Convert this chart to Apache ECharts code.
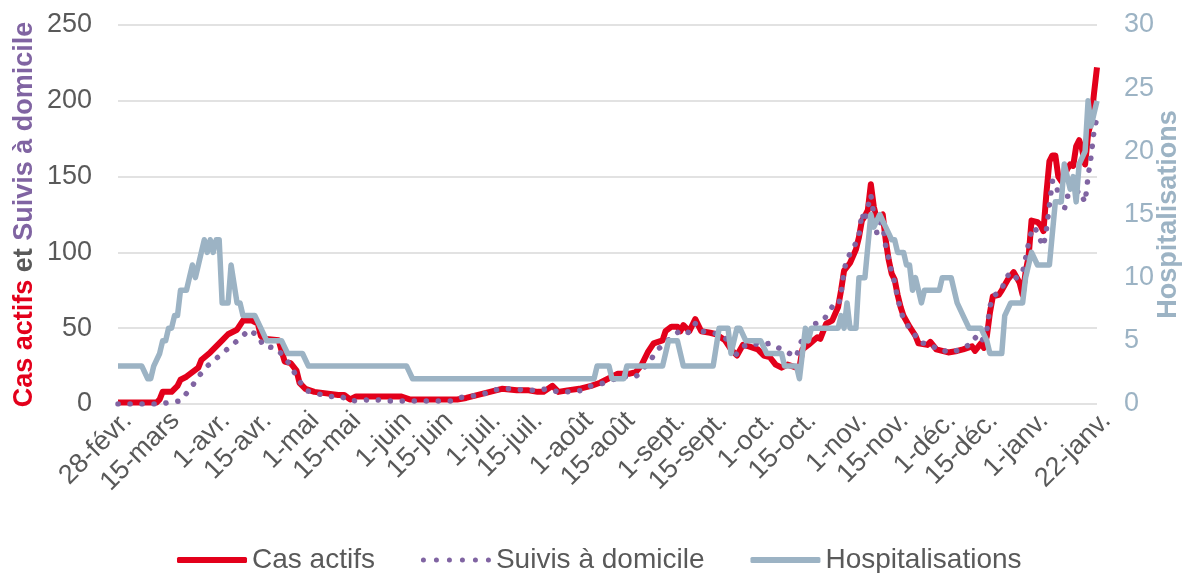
<!DOCTYPE html>
<html>
<head>
<meta charset="utf-8">
<script src="https://cdn.jsdelivr.net/npm/echarts@6/dist/echarts.min.js"></script>
<style>
  html, body { margin: 0; padding: 0; background: #fff; }
  #chart { width: 1186px; height: 573px; }
</style>
</head>
<body>
<div id="chart"></div>
<script>
// x = day number, 0 = 28 févr. 2020 ... 329 = 22 janv. 2021
const tickDays = [0, 16, 33, 47, 63, 77, 94, 108, 124, 138, 155, 169, 186, 200, 216, 230, 247, 261, 277, 291, 308, 329]
const tickLabels = ['28-févr.', '15-mars', '1-avr.', '15-avr.', '1-mai', '15-mai', '1-juin', '15-juin', '1-juil.', '15-juil.',
  '1-août', '15-août', '1-sept.', '15-sept.', '1-oct.', '15-oct.', '1-nov.', '15-nov.', '1-déc.', '15-déc.', '1-janv.', '22-janv.']

// [day, value]
const casActifs = [
  [0, 1], [13, 1], [14, 3], [15, 8], [18, 8], [20, 12], [21, 16], [23, 18], [25, 21], [27, 24], [28, 29],
  [31, 34], [33, 38], [35, 42], [37, 46], [40, 49], [42, 55], [45, 55], [47, 53], [48, 45], [49, 43],
  [54, 42], [55, 35], [56, 28], [58, 27], [60, 22], [61, 14], [63, 10], [66, 8], [70, 7], [74, 6], [76, 6],
  [78, 3], [80, 5], [95, 5], [98, 3], [114, 3], [117, 4], [121, 6], [125, 8], [129, 10], [134, 9], [138, 9],
  [141, 8], [143, 8], [146, 12], [148, 8], [151, 9], [155, 10], [159, 12], [162, 14], [165, 17], [168, 20],
  [172, 20], [174, 21], [176, 26], [178, 34], [180, 40], [183, 42], [184, 48], [186, 51], [188, 51], [189, 48],
  [190, 52], [192, 48], [194, 56], [196, 48], [199, 47], [201, 46], [204, 42], [206, 36], [208, 32], [210, 39],
  [212, 38], [215, 36], [217, 32], [219, 31], [221, 26], [223, 24], [225, 26], [228, 24], [229, 24], [230, 36],
  [232, 39], [235, 44], [236, 43], [238, 53], [240, 55], [242, 64], [243, 75], [244, 88], [246, 93], [248, 102],
  [249, 110], [250, 121], [251, 124], [252, 128], [253, 145], [254, 130], [255, 122], [257, 125], [258, 108],
  [259, 95], [260, 86], [261, 82], [262, 72], [263, 64], [264, 58], [266, 51], [268, 45], [269, 40], [272, 39],
  [273, 41], [275, 36], [277, 35], [279, 34], [282, 35], [284, 36], [287, 38], [288, 35], [290, 40], [291, 37],
  [292, 45], [293, 60], [294, 71], [296, 72], [297, 75], [299, 82], [301, 87], [303, 80], [304, 72], [305, 87],
  [306, 97], [307, 121], [309, 120], [310, 118], [311, 114], [312, 139], [313, 160], [314, 164], [315, 164],
  [316, 150], [317, 147], [318, 150], [319, 155], [320, 158], [321, 157], [322, 170], [323, 174], [324, 168],
  [325, 158], [326, 178], [327, 186], [328, 205], [329, 222]
]

const suivisDomicile = [
  [0, 0], [14, 0], [17, 1], [21, 2], [23, 7], [25, 12], [27, 18], [30, 25], [33, 30], [36, 35], [39, 40],
  [42, 45], [44, 49], [47, 45], [49, 38], [53, 37], [56, 31], [58, 25], [61, 15], [63, 9], [67, 7], [70, 5],
  [75, 5], [78, 2], [86, 3], [90, 2], [112, 2], [114, 4], [118, 5], [122, 6], [126, 9], [129, 10], [133, 10],
  [137, 9], [141, 9], [144, 10], [148, 8], [152, 8], [156, 9], [159, 12], [162, 13], [166, 16], [170, 18],
  [174, 18], [176, 22], [179, 29], [181, 35], [184, 41], [187, 45], [189, 49], [192, 47], [194, 53], [196, 48],
  [200, 47], [203, 45], [205, 42], [207, 31], [210, 38], [213, 40], [216, 39], [219, 40], [222, 37], [225, 34],
  [228, 31], [229, 39], [231, 46], [233, 52], [237, 55], [240, 64], [242, 64], [243, 73], [244, 88], [245, 96],
  [247, 102], [249, 111], [250, 126], [251, 120], [252, 130], [253, 138], [254, 125], [255, 113], [256, 120],
  [257, 118], [258, 104], [259, 96], [260, 87], [261, 80], [262, 70], [263, 62], [264, 56], [266, 50], [268, 45],
  [270, 40], [272, 40], [274, 38], [276, 35], [278, 35], [280, 34], [283, 36], [286, 39], [288, 44], [290, 40],
  [292, 49], [293, 64], [294, 71], [297, 75], [298, 82], [300, 87], [302, 83], [304, 87], [305, 96], [306, 106],
  [307, 114], [308, 117], [310, 108], [311, 104], [312, 115], [313, 131], [314, 147], [315, 147], [317, 130],
  [318, 128], [319, 137], [321, 137], [323, 141], [325, 133], [326, 150], [327, 163], [328, 180], [329, 189]
]

const hospitalisations = [
  [0, 3], [8, 3], [10, 2], [11, 2], [12, 3], [14, 4], [15, 5], [16, 5], [17, 6], [18, 6], [19, 7], [20, 7],
  [21, 9], [23, 9], [24, 10], [25, 11], [26, 10], [27, 11], [28, 12], [29, 13], [30, 12], [31, 13], [32, 12],
  [33, 13], [34, 13], [35, 8], [37, 8], [38, 11], [40, 8], [41, 8], [42, 7], [46, 7], [48, 6], [50, 5], [55, 5],
  [57, 4], [62, 4], [64, 3], [97, 3], [99, 2], [160, 2], [161, 3], [165, 3], [166, 2], [170, 2], [171, 3],
  [183, 3], [185, 5], [188, 5], [190, 3], [200, 3], [202, 6], [205, 6], [206, 4], [208, 6], [209, 6], [211, 5],
  [216, 5], [218, 4], [223, 4], [224, 3], [228, 3], [229, 2], [231, 6], [232, 5], [233, 6], [242, 6], [243, 7],
  [244, 6], [245, 8], [246, 6], [248, 6], [249, 10], [251, 10], [253, 15], [254, 14], [256, 15], [258, 14],
  [260, 13], [261, 13], [262, 12], [264, 12], [265, 11], [266, 11], [267, 9], [268, 10], [270, 8], [271, 9],
  [276, 9], [277, 10], [280, 10], [281, 9], [282, 8], [284, 7], [286, 6], [290, 6], [292, 5], [293, 4], [297, 4],
  [298, 7], [300, 8], [304, 8], [305, 10], [307, 12], [309, 11], [313, 11], [315, 16], [317, 16], [318, 19],
  [319, 18], [320, 17], [321, 18], [322, 16], [323, 19], [325, 20], [326, 24], [327, 22], [329, 24]
]

const RED = '#e3001b'
const PURPLE = '#8064a2'
const BLUEGREY = '#9cb3c4'
const TEXT = '#595959'
const FONT = '"Liberation Sans", Arial, sans-serif'

// six round dots for the dotted legend key
const dotsIcon = 'path://' + [2.5, 15.5, 28.5, 41.5, 54.5, 67.5]
  .map(c => 'M' + (c - 2.5) + ',2.5a2.5,2.5 0 1,0 5,0a2.5,2.5 0 1,0 -5,0z').join('')

const chart = echarts.init(document.getElementById('chart'))

chart.setOption({
  backgroundColor: '#fff',
  animation: false,
  textStyle: { fontFamily: FONT },
  grid: { left: 118, right: 89, top: 25, bottom: 169, containLabel: false, outerBoundsMode: 'none' },
  legend: {
    left: 172,
    top: 541,
    itemWidth: 70,
    itemHeight: 6,
    itemGap: 46,
    textStyle: { fontSize: 28, color: TEXT, fontFamily: FONT },
    data: [
      { name: 'Cas actifs', icon: 'roundRect' },
      { name: 'Suivis à domicile', icon: dotsIcon },
      { name: 'Hospitalisations', icon: 'roundRect' }
    ]
  },
  xAxis: {
    type: 'value',
    min: 0,
    max: 329,
    axisLine: { show: false },
    axisTick: { show: false },
    splitLine: { show: false },
    axisLabel: {
      customValues: tickDays,
      rotate: 45,
      margin: 3,
      verticalAlign: 'top',
      fontSize: 27,
      color: TEXT,
      fontFamily: FONT,
      formatter: function (v) {
        const i = tickDays.indexOf(v)
        return i >= 0 ? tickLabels[i] : ''
      }
    }
  },
  yAxis: [
    {
      type: 'value',
      min: 0,
      max: 250,
      interval: 50,
      position: 'left',
      axisLine: { show: false },
      axisTick: { show: false },
      splitLine: { lineStyle: { color: '#d9d9d9', width: 1.5 } },
      axisLabel: { fontSize: 27, color: TEXT, margin: 26, fontFamily: FONT },
      name: '{r|Cas actifs} {g|et} {p|Suivis à domicile}',
      nameLocation: 'middle',
      nameRotate: 90,
      nameGap: 80,
      nameMoveOverlap: false,
      nameTextStyle: {
        fontSize: 27,
        fontWeight: 'bold',
        fontFamily: FONT,
        color: TEXT,
        rich: {
          r: { color: RED, fontSize: 27, fontWeight: 'bold', fontFamily: FONT },
          g: { color: TEXT, fontSize: 27, fontWeight: 'bold', fontFamily: FONT },
          p: { color: PURPLE, fontSize: 27, fontWeight: 'bold', fontFamily: FONT }
        }
      }
    },
    {
      type: 'value',
      min: 0,
      max: 30,
      interval: 5,
      position: 'right',
      axisLine: { show: false },
      axisTick: { show: false },
      splitLine: { show: false },
      axisLabel: { fontSize: 27, color: BLUEGREY, margin: 27, fontFamily: FONT },
      name: 'Hospitalisations',
      nameLocation: 'middle',
      nameRotate: 90,
      nameGap: 58,
      nameMoveOverlap: false,
      nameTextStyle: { fontSize: 27, fontWeight: 'bold', color: BLUEGREY, fontFamily: FONT }
    }
  ],
  series: [
    {
      name: 'Cas actifs',
      type: 'line',
      yAxisIndex: 0,
      data: casActifs,
      symbol: 'none',
      z: 2,
      color: RED,
      lineStyle: { color: RED, width: 6, join: 'round' }
    },
    {
      name: 'Suivis à domicile',
      type: 'line',
      yAxisIndex: 0,
      data: suivisDomicile,
      symbol: 'none',
      z: 3,
      color: PURPLE,
      lineStyle: { color: PURPLE, width: 5.5, type: [0.1, 11.9], cap: 'round' }
    },
    {
      name: 'Hospitalisations',
      type: 'line',
      yAxisIndex: 1,
      data: hospitalisations,
      symbol: 'none',
      z: 4,
      color: BLUEGREY,
      lineStyle: { color: BLUEGREY, width: 5.5, join: 'round' }
    }
  ]
})
</script>
</body>
</html>
